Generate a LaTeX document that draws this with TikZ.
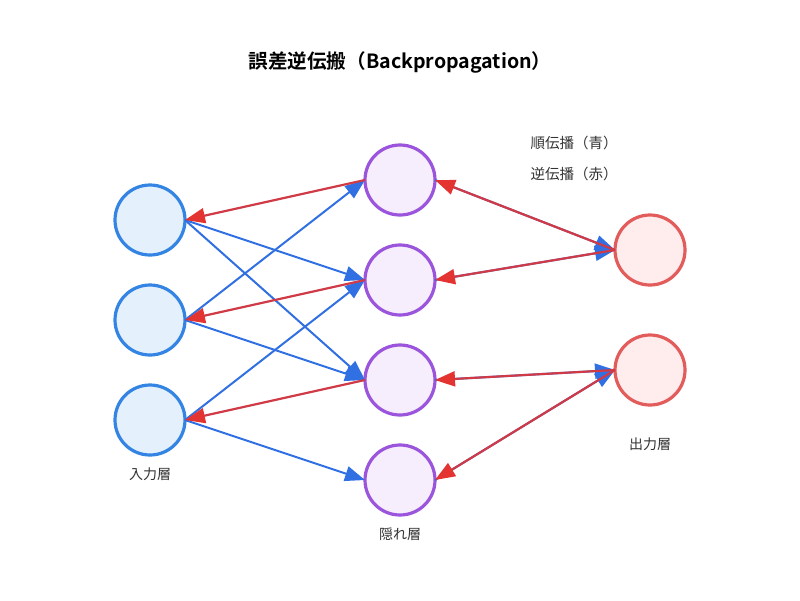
\documentclass[tikz,border=0pt]{standalone}
\usepackage{fontspec}
\setmainfont{Noto Sans CJK JP}
\newfontfamily\jpbold{Noto Sans CJK JP Bold}
\usetikzlibrary{arrows.meta}
\definecolor{inStroke}{RGB}{52,132,228}
\definecolor{inFill}{RGB}{228,241,253}
\definecolor{hidStroke}{RGB}{155,84,220}
\definecolor{hidFill}{RGB}{246,238,253}
\definecolor{outStroke}{RGB}{226,92,92}
\definecolor{outFill}{RGB}{255,236,236}
\definecolor{fwdLine}{RGB}{48,112,226}
\definecolor{bwdLine}{RGB}{208,58,70}
\definecolor{bwdTip}{RGB}{228,52,50}
\definecolor{txtGray}{RGB}{51,51,51}
\tikzset{
  neuron/.style={circle, minimum size=70pt, inner sep=0pt, outer sep=0pt, line width=3.2pt},
  innode/.style={neuron, draw=inStroke, fill=inFill},
  hidnode/.style={neuron, draw=hidStroke, fill=hidFill},
  outnode/.style={neuron, draw=outStroke, fill=outFill},
  fwd/.style={draw=fwdLine, line width=2pt, -{Triangle[length=20pt,width=15pt,color=fwdLine]}},
  bwd/.style={draw=bwdLine, line width=2.2pt, -{Triangle[length=20pt,width=15pt,color=bwdTip]}},
  layerlabel/.style={font=\fontsize{14pt}{16pt}\selectfont, text=txtGray},
  legendtext/.style={font=\fontsize{14.5pt}{16pt}\selectfont, text=txtGray, anchor=west},
}
\begin{document}
\begin{tikzpicture}[x=1pt,y=-1pt]
\useasboundingbox (0,0) rectangle (800,600);
\fill[white] (0,0) rectangle (800,600);
\node[font=\jpbold\fontsize{19.6pt}{22pt}\selectfont, text=black] (title) at (400,62) {誤差逆伝搬（Backpropagation）};
\node[legendtext] (lg1) at (527,143) {順伝播（青）};
\node[legendtext] (lg2) at (527,174) {逆伝播（赤）};
% nodes
\node[innode] (I1) at (150,220) {};
\node[innode] (I2) at (150,320) {};
\node[innode] (I3) at (150,420) {};
\node[hidnode] (H1) at (400,180) {};
\node[hidnode] (H2) at (400,280) {};
\node[hidnode] (H3) at (400,380) {};
\node[hidnode] (H4) at (400,480) {};
\node[outnode] (O1) at (650,250) {};
\node[outnode] (O2) at (650,370) {};
\node[layerlabel] (L1) at (150,474) {入力層};
\node[layerlabel] (L2) at (400,534) {隠れ層};
\node[layerlabel] (L3) at (650,444) {出力層};
% forward
\draw[fwd] (I1.east) -- (H2.west);
\draw[fwd] (I1.east) -- (H3.west);
\draw[fwd] (I2.east) -- (H1.west);
\draw[fwd] (I2.east) -- (H3.west);
\draw[fwd] (I3.east) -- (H2.west);
\draw[fwd] (I3.east) -- (H4.west);
\draw[fwd] (H1.east) -- (O1.west);
\draw[fwd] (H2.east) -- (O1.west);
\draw[fwd] (H3.east) -- (O2.west);
\draw[fwd] (H4.east) -- (O2.west);
% backward
\draw[bwd] (H1.west) -- (I1.east);
\draw[bwd] (H2.west) -- (I2.east);
\draw[bwd] (H3.west) -- (I3.east);
\draw[bwd] (O1.west) -- (H1.east);
\draw[bwd] (O1.west) -- (H2.east);
\draw[bwd] (O2.west) -- (H3.east);
\draw[bwd] (O2.west) -- (H4.east);
\end{tikzpicture}
\end{document}
